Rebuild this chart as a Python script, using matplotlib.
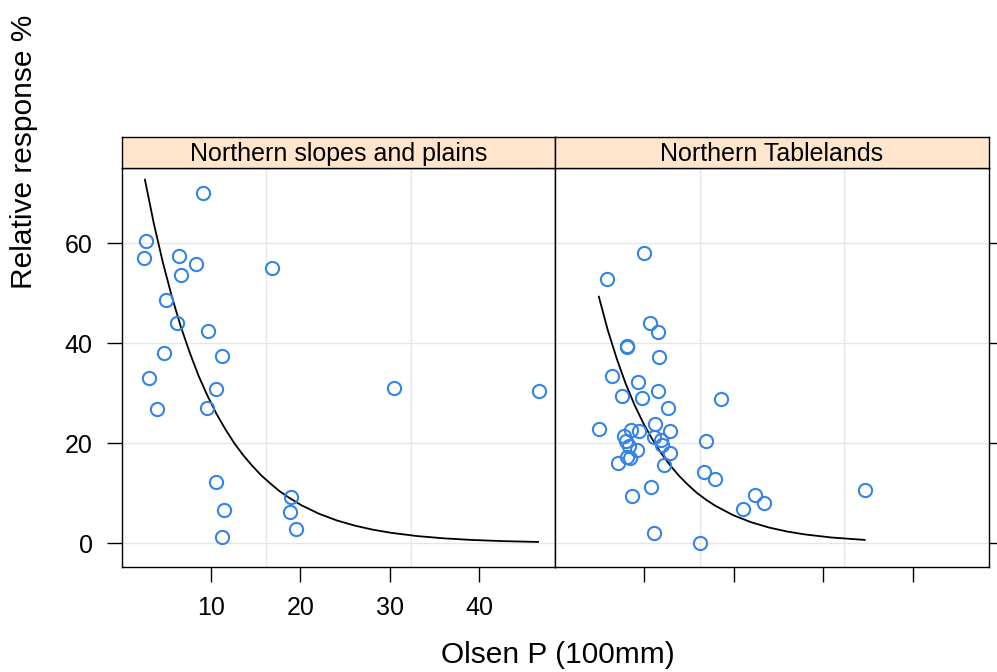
import matplotlib
matplotlib.use('Agg')
from matplotlib import pyplot as plt

plt.rcParams['font.family'] = ['Liberation Sans', 'DejaVu Sans']

panels = ['Northern slopes and plains', 'Northern Tablelands']
x_ticks = [10, 20, 30, 40]
y_ticks = [0, 20, 40, 60]

# Olsen P / relative response
slopes_p = [9.1, 2.7, 2.5, 6.4, 8.3, 6.6, 16.8, 5.0, 6.2, 9.7, 4.7, 11.2,
            3.1, 10.5, 4.0, 9.6, 30.5, 46.7, 10.6, 11.5, 11.2, 19.0, 18.8, 19.5]
slopes_resp = [70.0, 60.5, 57.1, 57.5, 55.9, 53.6, 55.0, 48.7, 44.0, 42.5, 38.1, 37.5,
               33.1, 30.8, 26.9, 27.1, 31.0, 30.5, 12.3, 6.6, 1.3, 9.2, 6.3, 2.9]

table_p = [10.0, 5.8, 10.6, 11.5, 8.1, 8.0, 11.6,
           6.4, 9.3, 11.5, 7.5, 9.7, 12.6, 4.9, 11.2, 8.5, 9.4, 12.8, 7.7, 11.1,
           11.8, 7.9, 8.3, 12.0, 9.2, 12.8, 8.1, 8.4, 7.0, 12.2,
           18.6, 16.9, 16.6, 17.9, 10.7, 8.6, 22.3, 23.4, 21.0, 34.6, 11.1, 16.2]
table_resp = [58.0, 52.9, 44.0, 42.2, 39.5, 39.3, 37.3,
              33.5, 32.3, 30.5, 29.5, 29.0, 27.1, 22.9, 23.9, 22.6, 22.5, 22.5, 21.5, 21.2,
              20.7, 20.5, 19.5, 19.7, 18.7, 18.1, 17.2, 17.0, 16.0, 15.7,
              28.9, 20.5, 14.3, 12.8, 11.2, 9.4, 9.7, 8.1, 6.9, 10.7, 2.1, 0.0]

# fitted curves, points
slopes_fit_p = [2.6, 3.6, 4.6, 5.6, 6.6, 7.6, 8.6, 9.6, 10.6, 11.6, 12.6, 13.6, 14.6,
                15.6, 16.6, 17.6, 18.6, 20.1, 22.1, 24.1, 26.1, 28.1, 30.1, 33.1,
                36.1, 39.1, 42.6, 46.6]
slopes_fit_resp = [72.7, 63.9, 56.2, 49.4, 43.4, 38.2, 33.5, 29.5, 25.9, 22.8, 20.0, 17.6,
                   15.5, 13.6, 12.0, 10.5, 9.25, 7.6, 5.88, 4.54, 3.51, 2.71, 2.09, 1.42,
                   0.97, 0.66, 0.42, 0.25]
table_fit_p = [4.9, 5.9, 6.9, 7.9, 8.9, 9.9, 10.9, 11.9, 12.9, 13.9, 14.9, 15.9, 16.9,
               17.9, 19.9, 21.9, 23.9, 25.9, 27.9, 30.9, 34.6]
table_fit_resp = [49.3, 42.6, 36.9, 31.9, 27.6, 23.9, 20.7, 17.9, 15.5, 13.4, 11.6, 10.0,
                  8.67, 7.5, 5.61, 4.2, 3.14, 2.35, 1.76, 1.14, 0.66]

xlim = (0.0, 48.5)
ylim = (-4.7, 75.1)
pt_col = '#3383e8'
grid_col = '#e6e6e6'

fig = plt.figure(figsize=(9.97, 6.72), dpi=100)
fig.patch.set_facecolor('white')

px, py = fig.get_figwidth() * 100, fig.get_figheight() * 100
lefts = [121.7, 555.0]
rights = [555.0, 989.0]
top, bot, strip_top = 167.7, 566.7, 137.3

data = [(slopes_p, slopes_resp, slopes_fit_p, slopes_fit_resp),
        (table_p, table_resp, table_fit_p, table_fit_resp)]

for i, name in enumerate(panels):
    ax = fig.add_axes([lefts[i] / px, 1 - bot / py, (rights[i] - lefts[i]) / px, (bot - top) / py])
    xs, ys, fx, fy = data[i]
    for yv in y_ticks:
        ax.axhline(yv, color=grid_col, lw=1, zorder=0)
    for k in (1, 2):
        ax.axvline(xlim[0] + k * (xlim[1] - xlim[0]) / 3, color=grid_col, lw=1, zorder=0)
    ax.plot(fx, fy, color='black', lw=1.3, zorder=2)
    ax.plot(xs, ys, 'o', mfc='none', mec=pt_col, ms=9.5, mew=1.5, zorder=3)
    ax.set_xlim(xlim)
    ax.set_ylim(ylim)
    ax.set_xticks(x_ticks)
    ax.set_yticks(y_ticks)
    for s in ax.spines.values():
        s.set_linewidth(1.0)
    ax.tick_params(direction='out', length=11, width=1, pad=10, labelsize=18)
    if i == 0:
        ax.tick_params(axis='y', left=True, right=False, labelleft=True)
        ax.tick_params(axis='x', bottom=True, labelbottom=True)
    else:
        ax.tick_params(axis='y', left=False, right=True, labelleft=False, labelright=False)
        ax.tick_params(axis='x', bottom=True, labelbottom=False)

    sax = fig.add_axes([lefts[i] / px, 1 - top / py, (rights[i] - lefts[i]) / px, (top - strip_top) / py])
    sax.set_facecolor('#ffe5cc')
    sax.set_xticks([])
    sax.set_yticks([])
    for s in sax.spines.values():
        s.set_linewidth(1.0)
    sax.text(0.5, 0.45, name, ha='center', va='center', fontsize=18, transform=sax.transAxes)

fig.text(558 / px, 1 - 655 / py, 'Olsen P (100mm)', ha='center', va='center', fontsize=21.5)
fig.text(24 / px, 1 - 152 / py, 'Relative response %', ha='center', va='center',
         rotation=90, fontsize=21.5)

plt.savefig('out.png', dpi=100)
